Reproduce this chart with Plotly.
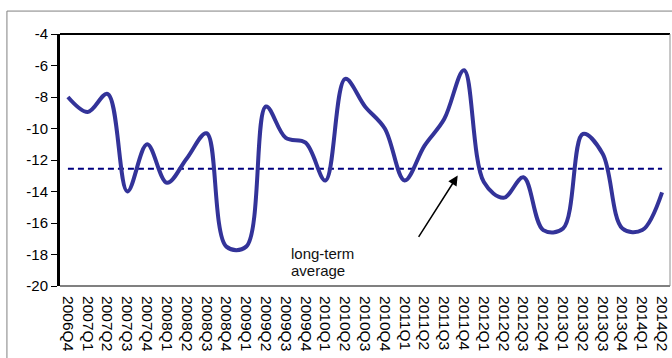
import plotly.graph_objects as go

quarters = ["2006Q4", "2007Q1", "2007Q2", "2007Q3", "2007Q4", "2008Q1", "2008Q2", "2008Q3",
            "2008Q4", "2009Q1", "2009Q2", "2009Q3", "2009Q4", "2010Q1", "2010Q2", "2010Q3",
            "2010Q4", "2011Q1", "2011Q2", "2011Q3", "2011Q4", "2012Q1", "2012Q2", "2012Q3",
            "2012Q4", "2013Q1", "2013Q2", "2013Q3", "2013Q4", "2014Q1", "2014Q2"]
values = [-8.0, -8.95, -7.8, -14.0, -11.0, -13.45, -11.9, -10.3,
          -17.5, -17.5, -8.6, -10.6, -10.9, -13.3, -6.85, -8.6,
          -10.0, -13.3, -11.1, -9.4, -6.3, -13.4, -14.4, -13.1,
          -16.45, -16.35, -10.35, -11.6, -16.35, -16.45, -14.05]
long_term_average = [-12.55] * len(quarters)
y_ticks = [-20, -18, -16, -14, -12, -10, -8, -6, -4]
y_tick_labels = ["-20", "-18", "-16", "-14", "-12", "-10", "-8", "-6", "-4"]

FONT = "Arial, Liberation Sans, sans-serif"

fig = go.Figure()
fig.add_trace(go.Scatter(x=quarters, y=long_term_average, mode="lines",
                         line=dict(color="#000080", width=2, dash="6px,4px"),
                         hoverinfo="skip", showlegend=False))
fig.add_trace(go.Scatter(x=quarters, y=values, mode="lines",
                         line=dict(color="#333399", width=4, shape="spline", smoothing=1.0),
                         showlegend=False))

fig.update_layout(
    width=672, height=358,
    margin=dict(l=60, r=2, t=34, b=72),
    paper_bgcolor="white", plot_bgcolor="white",
    font=dict(family=FONT, color="black"),
    xaxis=dict(type="category", range=[-0.4, 30.4], tickangle=90, showgrid=False,
               automargin=False, showline=False, zeroline=False, ticks="outside",
               ticklen=6, tickcolor="rgba(0,0,0,0)",
               tickfont=dict(size=15.5, family=FONT, color="black")),
    yaxis=dict(range=[-20, -4], tickvals=y_ticks, ticktext=y_tick_labels,
               showgrid=False, zeroline=False,
               automargin=False, showline=True, linecolor="black", linewidth=3,
               ticks="outside", ticklen=6, tickwidth=1, tickcolor="black",
               tickfont=dict(size=15, family=FONT, color="black")),
    shapes=[
        # outer chart frame
        dict(type="rect", xref="paper", yref="paper", x0=-0.087, x1=1.01, y0=-0.3, y1=1.091,
             line=dict(color="#808080", width=1), layer="below"),
        # plot area top
        dict(type="line", xref="paper", yref="paper", x0=0, x1=1, y0=1, y1=1,
             line=dict(color="black", width=2)),
        # plot area right
        dict(type="line", xref="paper", yref="paper", x0=1, x1=1, y0=0, y1=1,
             line=dict(color="#909090", width=1)),
        # plot area bottom
        dict(type="line", xref="paper", yref="paper", x0=0, x1=1, y0=0, y1=0,
             line=dict(color="#808080", width=2)),
    ],
    annotations=[
        dict(x=19.68, y=-12.99, xref="x", yref="y", ax=17.66, ay=-16.97, axref="x", ayref="y",
             text="", showarrow=True, arrowhead=2, arrowsize=1.3, arrowwidth=1.5,
             arrowcolor="black"),
        dict(x=0.376, y=0.127, xref="paper", yref="paper", xanchor="left", yanchor="middle",
             text="long-term", showarrow=False, font=dict(size=15, family=FONT, color="#111")),
        dict(x=0.376, y=0.063, xref="paper", yref="paper", xanchor="left", yanchor="middle",
             text="average", showarrow=False, font=dict(size=15, family=FONT, color="#111")),
    ],
)

fig.write_html("out.html", config={"displayModeBar": False},
               post_script="document.body.style.margin='0';document.body.style.overflow='hidden';")
